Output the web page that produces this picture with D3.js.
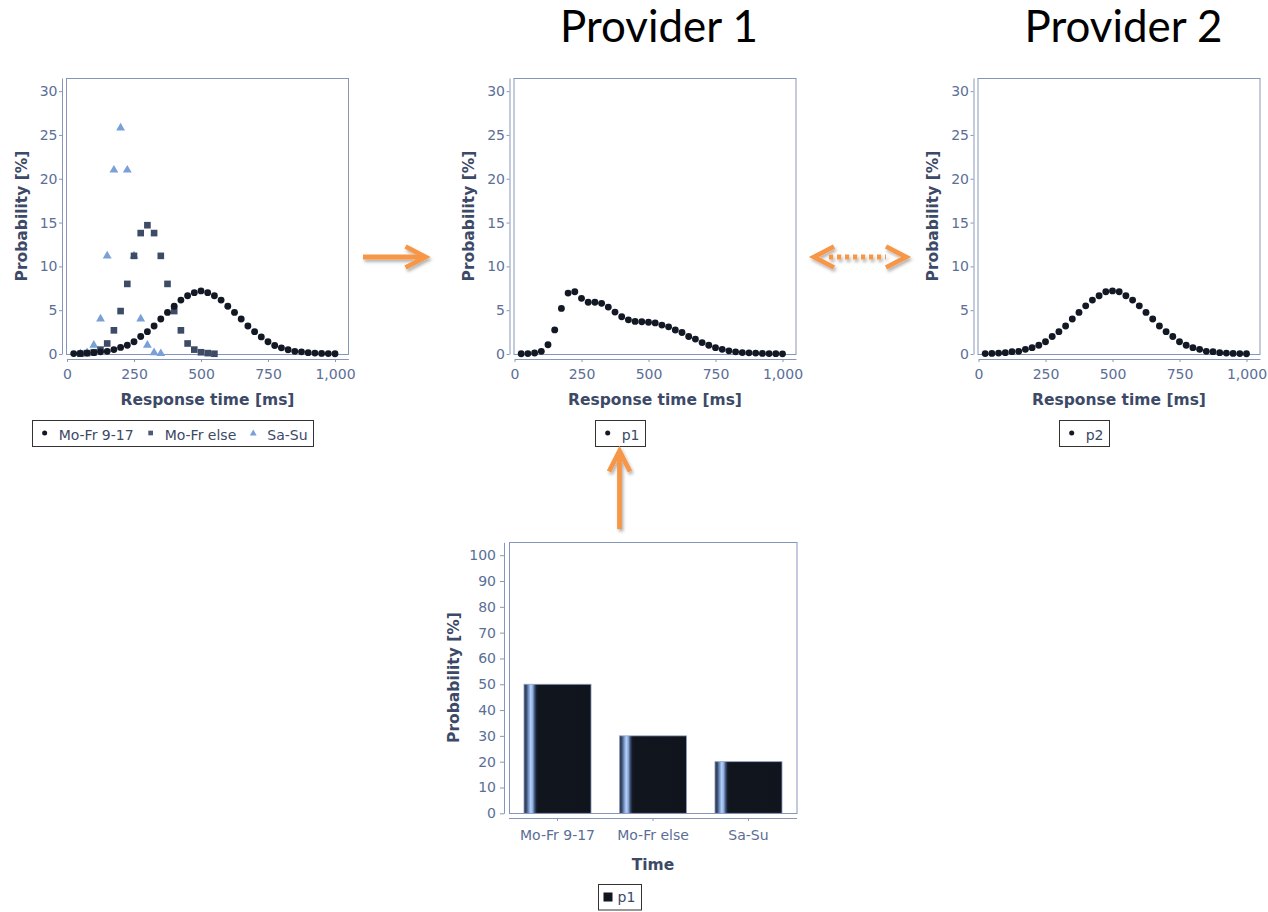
<!DOCTYPE html>
<html><head><meta charset="utf-8">
<script src="https://cdn.jsdelivr.net/npm/d3@7"></script>
<style>
html,body{margin:0;padding:0;background:#fff;}
svg{display:block;font-family:"DejaVu Sans",sans-serif;}
</style></head><body>
<svg id="c" width="1268" height="912"></svg>
<script>
// ---------------- data ----------------
const responseTimes = [25,50,75,100,125,150,175,200,225,250,275,300,325,350,375,400,425,450,475,500,
  525,550,575,600,625,650,675,700,725,750,775,800,825,850,875,900,925,950,975,1000];
const moFrDayValues = [0.05,0.07,0.1,0.15,0.25,0.3,0.5,0.75,1.0,1.4,2.0,2.55,3.2,4.0,4.75,5.45,6.15,6.65,7.0,7.2,
  7.0,6.65,6.15,5.45,4.75,4.0,3.2,2.55,1.95,1.4,0.97,0.7,0.48,0.3,0.25,0.15,0.1,0.07,0.05,0.03];
const moFrElseTimes = [50,75,100,125,150,175,200,225,250,275,300,325,350,375,400,425,450,475,500,525,550];
const moFrElseValues = [0.03,0.1,0.2,0.5,1.2,2.7,4.9,8.0,11.2,13.8,14.7,13.8,11.2,8.0,4.9,2.7,1.2,0.5,0.2,0.1,0.03];
const saSuTimes = [50,75,100,125,150,175,200,225,250,275,300,325,350];
const saSuValues = [0.05,0.15,1.0,4.0,11.2,21.0,25.8,21.0,11.2,4.0,1.0,0.15,0.05];
const p1Values = [0.03,0.05,0.12,0.3,1.05,2.75,5.2,6.95,7.1,6.35,5.9,5.9,5.78,5.35,4.78,4.25,3.9,3.72,3.68,3.62,
  3.55,3.3,3.1,2.74,2.45,2.0,1.7,1.3,1.0,0.72,0.53,0.36,0.25,0.16,0.13,0.1,0.07,0.05,0.04,0.02];
const p2Values = [0.05,0.07,0.1,0.15,0.27,0.3,0.53,0.72,1.0,1.4,2.0,2.55,3.2,4.0,4.75,5.5,6.15,6.65,7.1,7.2,
  7.1,6.65,6.15,5.5,4.75,4.0,3.2,2.55,2.0,1.4,1.0,0.72,0.53,0.3,0.27,0.15,0.1,0.07,0.05,0.03];
const periodCategories = ["Mo-Fr 9-17","Mo-Fr else","Sa-Su"];
const periodShares = [50,30,20];
const xTickValues = [0,250,500,750,1000];
const yTickValues = [0,5,10,15,20,25,30];
const barTickValues = [0,10,20,30,40,50,60,70,80,90,100];
const providerTitles = ["Provider 1","Provider 2"];

// ---------------- styles ----------------
const TICK_COLOR = "#5b6e96";
const TITLE_COLOR = "#3c4967";
const AXIS_COLOR = "#8797bb";
const FRAME_COLOR = "#8596bb";
const LEGEND_TEXT = "#3c4967";
const C_DARK = "#121824";
const C_SLATE = "#3d4b66";
const C_LIGHT = "#7aa0d8";
const ORANGE = "#f79646";

const svg = d3.select("#c");
svg.append("rect").attr("width",1268).attr("height",912).attr("fill","#fff");
const defs = svg.append("defs");
const flt = defs.append("filter").attr("id","shadow").attr("x","-40%").attr("y","-40%").attr("width","180%").attr("height","180%");
flt.append("feDropShadow").attr("dx",1.5).attr("dy",2.5).attr("stdDeviation",1.6)
  .attr("flood-color","#000").attr("flood-opacity",0.3);
const grad = defs.append("linearGradient").attr("id","barGrad").attr("x1",0).attr("x2",1).attr("y1",0).attr("y2",0);
[[0,"#2c364c"],[0.035,"#3a4a68"],[0.065,"#6d8dc2"],[0.1,"#b6d1f8"],[0.13,"#8eaee0"],[0.16,"#3e5074"],
 [0.19,"#161b26"],[0.22,"#11151d"],[1,"#10141c"]].forEach(([o,c]) =>
  grad.append("stop").attr("offset",o).attr("stop-color",c));

function styleAxis(a, fs) {
  a.select(".domain").attr("stroke", AXIS_COLOR);
  a.selectAll(".tick line").attr("stroke", AXIS_COLOR);
  a.selectAll(".tick text").attr("fill", TICK_COLOR).attr("font-size", fs)
    .attr("font-family", '"DejaVu Sans",sans-serif');
}

function legend(cx, top, h, baseline, items) {
  const g = svg.append("g");
  const padL = 12.7, gapMT = 14, gapItem = 17, padR = 5.5;
  let xcur = 0;
  const placed = [];
  items.forEach((it, i) => {
    const mx = xcur + (i === 0 ? padL : gapItem);
    const t = g.append("text").attr("font-size",14).attr("fill",LEGEND_TEXT).text(it.label);
    const w = t.node().getComputedTextLength();
    placed.push({it, mx, t, tx: mx + gapMT});
    xcur = mx + gapMT + w;
  });
  const total = xcur + padR;
  const x0 = cx - total/2;
  g.insert("rect",":first-child").attr("x",Math.round(x0)+0.5).attr("y",top+0.5)
    .attr("width",Math.round(total)).attr("height",h).attr("fill","#fff").attr("stroke","#333");
  placed.forEach(p => {
    p.t.attr("x", x0 + p.tx).attr("y", baseline);
    g.append("path").attr("d", d3.symbol(p.it.symbol, p.it.size)())
      .attr("transform", `translate(${x0 + p.mx},${p.it.my})`).attr("fill", p.it.color);
  });
}

function scatterChart(ox, seriesList, legendItems) {
  const g = svg.append("g").attr("transform", `translate(${ox},0)`);
  const x = d3.scaleLinear().domain([0,1050]).range([67,348.4]);
  const y = d3.scaleLinear().domain([0,31.5]).range([354,78]);
  g.append("rect").attr("x",66.5).attr("y",78.5).attr("width",282).attr("height",276)
    .attr("fill","#fff").attr("stroke",FRAME_COLOR);
  seriesList.forEach(s => {
    g.append("g").selectAll("path")
      .data(s.times.map((t,i) => ({t, v: s.values[i]})))
      .join("path")
      .attr("transform", d => `translate(${x(d.t)},${y(d.v)})`)
      .attr("d", d3.symbol(s.symbol, s.size)())
      .attr("fill", s.color);
  });
  const ya = g.append("g").attr("transform","translate(62,0)")
    .call(d3.axisLeft(y).tickValues(yTickValues).tickSize(3).tickPadding(1.5).tickSizeOuter(0));
  styleAxis(ya, 14);
  const xa = g.append("g").attr("transform","translate(0,359)")
    .call(d3.axisBottom(x).tickValues(xTickValues).tickFormat(d3.format(",")).tickSize(3).tickPadding(7).tickSizeOuter(0));
  styleAxis(xa, 14);
  g.append("text").attr("x",207.5).attr("y",405).attr("text-anchor","middle")
    .attr("font-size",15.5).attr("font-weight","bold").attr("fill",TITLE_COLOR).text("Response time [ms]");
  g.append("text").attr("transform","translate(26.5,216) rotate(-90)").attr("text-anchor","middle")
    .attr("font-size",15.5).attr("font-weight","bold").attr("fill",TITLE_COLOR).text("Probability [%]");
  legend(172.5 + ox, 420, 26, 439.5, legendItems);
}

const circleL = {symbol: d3.symbolCircle, size: 20, color: C_DARK, my: 433};
const squareL = {symbol: d3.symbolSquare, size: 22, color: "#4a5a78", my: 433};
const triL = {symbol: d3.symbolTriangle, size: 20, color: C_LIGHT, my: 433.5};

scatterChart(0, [
  {times: saSuTimes, values: saSuValues, symbol: d3.symbolTriangle, size: 34, color: C_LIGHT},
  {times: moFrElseTimes, values: moFrElseValues, symbol: d3.symbolSquare, size: 44, color: C_SLATE},
  {times: responseTimes, values: moFrDayValues, symbol: d3.symbolCircle, size: 37, color: C_DARK}
], [
  Object.assign({label: periodCategories[0]}, circleL),
  Object.assign({label: periodCategories[1]}, squareL),
  Object.assign({label: periodCategories[2]}, triL)
]);
scatterChart(447.5, [
  {times: responseTimes, values: p1Values, symbol: d3.symbolCircle, size: 37, color: C_DARK}
], [Object.assign({label: "p1"}, circleL)]);
scatterChart(911.5, [
  {times: responseTimes, values: p2Values, symbol: d3.symbolCircle, size: 37, color: C_DARK}
], [Object.assign({label: "p2"}, circleL)]);

// ---------------- bar chart ----------------
(function(){
  const g = svg.append("g");
  const x = d3.scaleBand().domain(periodCategories).range([509,797]).paddingInner(0.298).paddingOuter(0.157);
  const y = d3.scaleLinear().domain([0,105]).range([813.3,542.3]);
  g.append("rect").attr("x",509.5).attr("y",542.5).attr("width",287.5).attr("height",271)
    .attr("fill","#fff").attr("stroke",FRAME_COLOR);
  g.append("g").selectAll("rect").data(periodCategories.map((c,i)=>({c, v: periodShares[i]}))).join("rect")
    .attr("x", d => x(d.c)).attr("width", x.bandwidth())
    .attr("y", d => y(d.v)).attr("height", d => y(0) - y(d.v))
    .attr("fill","url(#barGrad)").attr("stroke","#8ea0c4").attr("stroke-width",0.8);
  const ya = g.append("g").attr("transform","translate(504,0)")
    .call(d3.axisLeft(y).tickValues(barTickValues).tickSize(4).tickPadding(4).tickSizeOuter(0));
  styleAxis(ya, 14);
  const xa = g.append("g").attr("transform","translate(0,818)")
    .call(d3.axisBottom(x).tickSize(3).tickPadding(9).tickSizeOuter(0));
  xa.select(".domain").attr("d","M509,0.5H797");
  styleAxis(xa, 14);
  g.append("text").attr("x",653).attr("y",870).attr("text-anchor","middle")
    .attr("font-size",15.5).attr("font-weight","bold").attr("fill",TITLE_COLOR).text("Time");
  g.append("text").attr("transform","translate(459,677.5) rotate(-90)").attr("text-anchor","middle")
    .attr("font-size",15.5).attr("font-weight","bold").attr("fill",TITLE_COLOR).text("Probability [%]");
  // legend
  const lg = svg.append("g");
  lg.append("rect").attr("x",598.5).attr("y",884.5).attr("width",43).attr("height",25.5)
    .attr("fill","#fff").attr("stroke","#333");
  lg.append("rect").attr("x",603.5).attr("y",892.5).attr("width",9).attr("height",9).attr("fill","#11151d");
  lg.append("text").attr("x",617.5).attr("y",902).attr("font-size",14).attr("fill",LEGEND_TEXT).text("p1");
})();

// ---------------- titles ----------------
const titleCenters = [659, 1123.5];
providerTitles.forEach((t,i) => {
  const el = svg.append("text").attr("font-family","Lato, 'Open Sans', sans-serif").attr("font-size",40)
    .attr("fill","#000").attr("text-anchor","middle").attr("x",titleCenters[i]).attr("y",42).text(t);
  const w = el.node().getComputedTextLength();
  el.attr("font-size", 40 * 198 / w);
});

// ---------------- arrows ----------------
const arrows = svg.append("g").attr("filter","url(#shadow)").attr("fill","none").attr("stroke",ORANGE)
  .attr("stroke-width",4.8).attr("stroke-linejoin","miter");
arrows.append("path").attr("d","M363,257 H424");
arrows.append("path").attr("d","M405.5,246.5 L425.5,257 L405.5,267.5");
arrows.append("path").attr("d","M829,257 H886").attr("stroke-dasharray","4.2 3.8");
arrows.append("path").attr("d","M834,246.5 L814,257 L834,267.5");
arrows.append("path").attr("d","M886,246.5 L906,257 L886,267.5");
arrows.append("path").attr("d","M619.5,529 V453");
arrows.append("path").attr("d","M609,471.5 L619.5,451 L630,471.5");
</script>
</body></html>
